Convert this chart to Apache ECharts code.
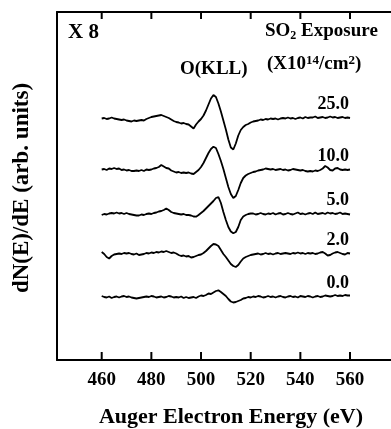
<!DOCTYPE html>
<html>
<head>
<meta charset="utf-8">
<script src="https://cdn.jsdelivr.net/npm/echarts@6/dist/echarts.min.js"></script>
<style>
  html, body { margin: 0; padding: 0; background: #fff; }
  #chart { width: 391px; height: 429px; }
</style>
</head>
<body>
<div id="chart"></div>
<script>
const FONT = '"Liberation Serif", "Times New Roman", serif';

// energy grid: 460..560 eV, 1 eV step
const energyStart = 460;
const xTicks = [460, 480, 500, 520, 540, 560];

// curve labels (SO2 exposure, x10^14 /cm^2) and vertical offsets of each trace
const exposures = ['25.0', '10.0', '5.0', '2.0', '0.0'];
const baselines = [241.5, 190, 146, 106, 63];

// dN/dE traces relative to their own baseline (arb. units)
const s25 = [
  0, 0.5, -0.5, 0, 1, 0, -0.5, -1, -1.5, -1,
  -2, -2.5, -3, -2, -2.5, -2, -1.5, -2, -0.5, 0.5,
  1.5, 2, 2.5, 3, 3.5, 2.5, 1.5, 0.5, -1, -2.5,
  -3.5, -4, -5, -4.5, -5.5, -6, -8, -10, -6, -3,
  -0.5, 3, 8, 14, 20, 23.5, 21.5, 15, 7, -2,
  -11, -21, -29, -31, -25, -17, -11.5, -8.5, -6.5, -5.5,
  -4, -3, -2.5, -2, -1, -1.5, -0.5, -1, 0, -0.5,
  0, -1, 0, 0.5, 0, 1, 0, 0.5, -0.5, 0.5,
  1, 0, 1.5, 0.5, 1, 1, 2, 0.5, 1, 1.5,
  0.5, 1, 2, 1, 1.5, 0.5, 1, 1.5, 0.5, 1,
  0.5
];
const s10 = [
  0.5, 1, 0, 1.5, 1, 2, 1, 1.5, 0, 0.5,
  -0.5, 0, -1, -1, -0.5, -1, 0, -1, 0.5, 0,
  0.5, 1.5, 2, 3, 5, 3.5, 2, 1.5, -0.5, -1.5,
  -2.5, -2, -3, -2.5, -3, -2.5, -3.5, -4, -2, 0,
  3, 7, 12, 17, 21, 23.3, 22, 16, 9, 1,
  -8, -17, -24, -28, -26, -20, -13, -8, -5.5, -4,
  -3, -2, -1.5, -0.5, 0, 0.5, 1.5, 1, 0.5, 1,
  0, 0.5, 1, 0, 0.5, -0.5, 0, 1, 0.5, 0,
  -0.5, 0, -1, -1.5, -1, -1.5, -0.5, -1, 0, 1.5,
  4, 2.5, 0, -0.5, 1.5, 2, 0.5, 0, 0.5, 0,
  0.5
];
const s5 = [
  -1, 0, -0.5, 0.5, 1, 0.5, 1.5, 0.5, 1, 0,
  1, 0, -0.5, -1, -1.5, -1.5, -0.5, -1, 0, 0.5,
  0, 1, 1.5, 2.5, 3, 4, 5.5, 4, 2, 1,
  0.5, 0, -0.5, 0, -1, -1, -1.5, -2.5, -2.7, -1,
  1, 3, 5.5, 8, 10.5, 13, 16, 17, 11, 2,
  -6, -13, -17.5, -19.3, -18, -13, -6, -2.5, -1, 0,
  0.5, 0.5, -0.5, 0, 1, 0, -0.5, 0.5, 0, 1,
  -0.5, 0.5, 1, -0.5, 0, 1, 0, -0.5, 0.5, 1.5,
  0, 0.5, -0.5, 0.5, 1, 0, 1.5, 0, 0.5, 1,
  0, 1.5, 0.5, 1, 0, 0.5, 1.5, 0, 0.5, 0,
  -0.5
];
const s2 = [
  2, 0, -3, -4.5, -2, -0.5, 0, 0.5, 0, 1,
  0.5, 1, 0, -0.5, 0.5, -1, -0.5, 0, 1, 0.5,
  1.5, 1, 2, 1.5, 2.5, 2, 3, 2, 1, 1.5,
  0.5, -1, -2, -1.5, -2.5, -2, -3.5, -3, -2, -1,
  -0.5, 1, 3, 5.5, 8, 10, 9.5, 8, 4, 0,
  -3, -6.5, -10, -12, -13, -11, -7.5, -4.5, -3, -2,
  -1, -0.5, 0, 0.5, -0.5, 0, 1, 0, 0.5, -0.5,
  0.5, 1, 0, 0.5, 1, 0.5, 0, 1, 0.5, 1.5,
  0.5, 1, 0, 1, 0.5, 1, 0, 0.5, 1.5, 2,
  0.5, -1.5, -1, 0.5, 1.5, 2, 1, 0, -0.5, 1,
  0.5
];
const s0 = [
  1, 0, -0.5, 0.5, -1, 0, 0.5, -0.5, 0.5, 1,
  0, 0.5, -0.5, -1, -1.5, -1, -0.5, 0, 0.5, 0,
  1, 0.5, -0.5, 0, 0.5, -0.5, 0, 1, 0.5, -0.5,
  0, -0.5, 0.5, -1, 0, -1, -0.5, 0, -1, 0.5,
  1.5, 1, 2, 3.5, 3, 4.5, 6, 6.7, 5, 3,
  1, -2, -4.5, -5.5, -5, -4, -3, -1.5, -1, 0,
  -0.5, 0.5, 0, 1, 0.5, -0.5, 0, 1, 0, 0.5,
  -0.5, 0.5, 1, 0, -0.5, 0.5, 1, 0, 0.5, -0.5,
  1, 0.5, 0, 1, 0.5, -0.5, 0.5, 1, 0, 0.5,
  1.5, 1, 0.5, 1, 2, 1, 1.5, 1, 2, 1.5,
  1.5
];
const traces = [s25, s10, s5, s2, s0];

const chart = echarts.init(document.getElementById('chart'));

const bold = { fontFamily: FONT, fontWeight: 'bold', color: '#000' };
const yMax = 348;

function xAxisCfg(pos) {
  return {
    type: 'value',
    position: pos,
    min: 442,
    max: 576.5,
    splitLine: { show: false },
    axisLine: { show: true, onZero: false, lineStyle: { color: '#000', width: 2 } },
    axisTick: { show: false },
    axisLabel: {
      show: pos === 'bottom', customValues: xTicks, margin: 11,
      fontSize: 19, ...bold
    }
  };
}

const option = {
  animation: false,
  backgroundColor: '#fff',
  grid: { left: 57, right: 0, top: 12, bottom: 69 },
  xAxis: [xAxisCfg('bottom'), xAxisCfg('top')],
  yAxis: {
    type: 'value', min: 0, max: yMax,
    splitLine: { show: false },
    axisLine: { show: true, onZero: false, lineStyle: { color: '#000', width: 2 } },
    axisTick: { show: false },
    axisLabel: { show: false }
  },
  series: traces.map((vals, k) => ({
    name: exposures[k],
    type: 'line',
    showSymbol: false,
    symbol: 'none',
    lineStyle: { color: '#000', width: 1.8 },
    data: vals.map((v, i) => [energyStart + i, baselines[k] + v])
  }))
};
chart.setOption(option);

// texts: labels next to traces placed via the chart's own scale
const graphics = [
  { type: 'text', left: 68, top: 22, style: { text: 'X 8', fontSize: 21, ...bold } },
  {
    type: 'text', x: 265, y: 21,
    style: {
      text: '{m|SO}{s|2}{m| Exposure}',
      rich: {
        m: { fontSize: 19, lineHeight: 21, ...bold },
        s: { fontSize: 12, lineHeight: 12, verticalAlign: 'bottom', ...bold }
      }
    }
  },
  {
    type: 'text', x: 267, y: 54,
    style: {
      text: '{m|(X10}{p|14}{m|/cm}{p|2}{m|)}',
      rich: {
        m: { fontSize: 19, lineHeight: 21, ...bold },
        p: { fontSize: 13, lineHeight: 12, verticalAlign: 'top', ...bold }
      }
    }
  },
  { type: 'text', x: 180, y: 60, style: { text: 'O(KLL)', fontSize: 19, ...bold } },
  {
    type: 'text', x: 231, y: 417,
    style: { text: 'Auger Electron Energy (eV)', fontSize: 22, align: 'center', verticalAlign: 'middle', ...bold }
  },
  {
    type: 'text', x: 22, y: 188, rotation: Math.PI / 2,
    style: { text: 'dN(E)/dE (arb. units)', fontSize: 23, align: 'center', verticalAlign: 'middle', ...bold }
  }
];

// inward tick marks on the bottom and top frame, positioned by the x scale
xTicks.forEach(v => {
  const b = chart.convertToPixel({ xAxisIndex: 0, yAxisIndex: 0 }, [v, 0]);
  const t = chart.convertToPixel({ xAxisIndex: 0, yAxisIndex: 0 }, [v, yMax]);
  graphics.push({
    type: 'line', z: 100,
    shape: { x1: b[0], y1: b[1], x2: b[0], y2: b[1] - 8 },
    style: { stroke: '#000', lineWidth: 2 }
  });
  graphics.push({
    type: 'line', z: 100,
    shape: { x1: t[0], y1: t[1], x2: t[0], y2: t[1] + 7 },
    style: { stroke: '#000', lineWidth: 2 }
  });
});

exposures.forEach((lab, k) => {
  const p = chart.convertToPixel({ xAxisIndex: 0, yAxisIndex: 0 }, [560, baselines[k]]);
  graphics.push({
    type: 'text', x: p[0] - 1, y: p[1] - 14,
    style: { text: lab, fontSize: 18, align: 'right', verticalAlign: 'middle', ...bold }
  });
});
chart.setOption({ graphic: graphics });
</script>
</body>
</html>
